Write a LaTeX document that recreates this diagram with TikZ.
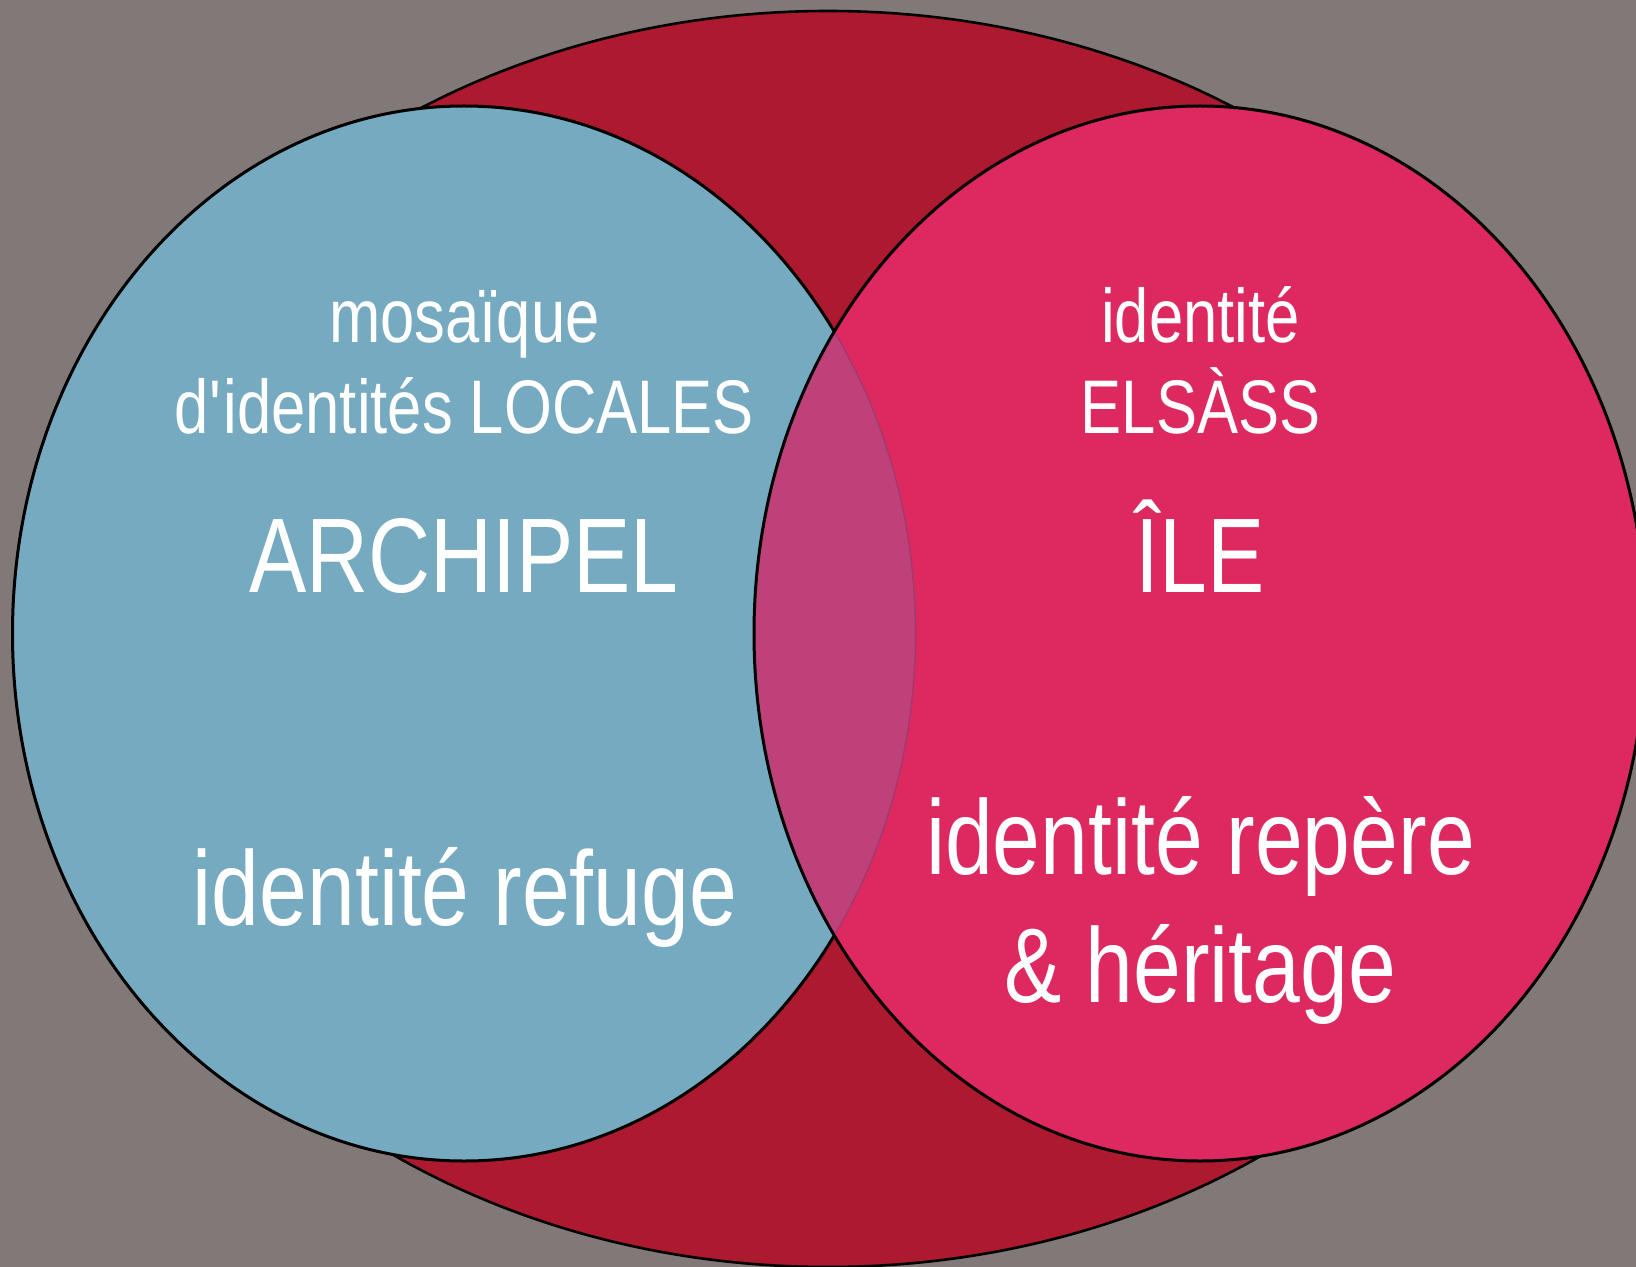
\documentclass[tikz,border=0pt]{standalone}
\usepackage{fontspec}
\setmainfont{Liberation Sans}[FakeStretch=0.81]
\usepackage{tikz}
\definecolor{bggray}{HTML}{817978}
\definecolor{archired}{HTML}{AD192E}
\definecolor{localblue}{HTML}{76AAC0}
\definecolor{elsasspink}{HTML}{DD2960}
\definecolor{mixpurple}{HTML}{BF417A}
\definecolor{faintline}{HTML}{A8386C}
\tikzset{
  bigoval/.style = {draw=black, line width=1.3pt, fill=archired},
  leftoval/.style = {draw=black, line width=1.5pt, fill=localblue},
  rightoval/.style = {draw=black, line width=1.5pt},
  smalltxt/.style = {text=white, anchor=base, inner sep=0pt,
    font=\fontsize{38}{42}\selectfont},
  bigtxt/.style = {text=white, anchor=base, inner sep=0pt,
    font=\fontsize{53}{58}\selectfont}
}

\begin{document}
\begin{tikzpicture}[x=0.5pt, y=-0.5pt]
  \useasboundingbox (0,0) rectangle (1636,1267);
  \fill[bggray] (0,0) rectangle (1636,1267);

  % Ovals
  \draw[bigoval] (828,639) ellipse [x radius=762, y radius=628];
  \draw[leftoval] (464,633.5) ellipse [x radius=451.5, y radius=527.5];
  \fill[elsasspink] (1200,633.5) ellipse [x radius=446, y radius=527.5];
  \begin{scope}
    \clip (1200,633.5) ellipse [x radius=446, y radius=527.5];
    \fill[mixpurple] (464,633.5) ellipse [x radius=451.5, y radius=527.5];
    \draw[faintline, line width=0.8pt] (464,633.5) ellipse [x radius=451.5, y radius=527.5];
  \end{scope}
  \draw[rightoval] (1200,633.5) ellipse [x radius=446, y radius=527.5];

  % Texts
  \node[smalltxt] (mosaique) at (464.5,343) {mosaïque};
  \node[smalltxt] (locales) at (464.5,433) {d\textquotesingle identités LOCALES};
  \node[bigtxt] (archipel) at (464,592) {ARCHIPEL};
  \node[bigtxt] (refuge) at (465,925) {identité refuge};

  \node[smalltxt] (identite) at (1200.5,343) {identité};
  \node[smalltxt] (elsass) at (1200.5,433) {ELSÀSS};
  \node[bigtxt] (ile) at (1200,592) {ÎLE};
  \node[bigtxt] (repere) at (1200.5,874) {identité repère};
  \node[bigtxt] (heritage) at (1200.5,1002) {\& héritage};
\end{tikzpicture}
\end{document}
